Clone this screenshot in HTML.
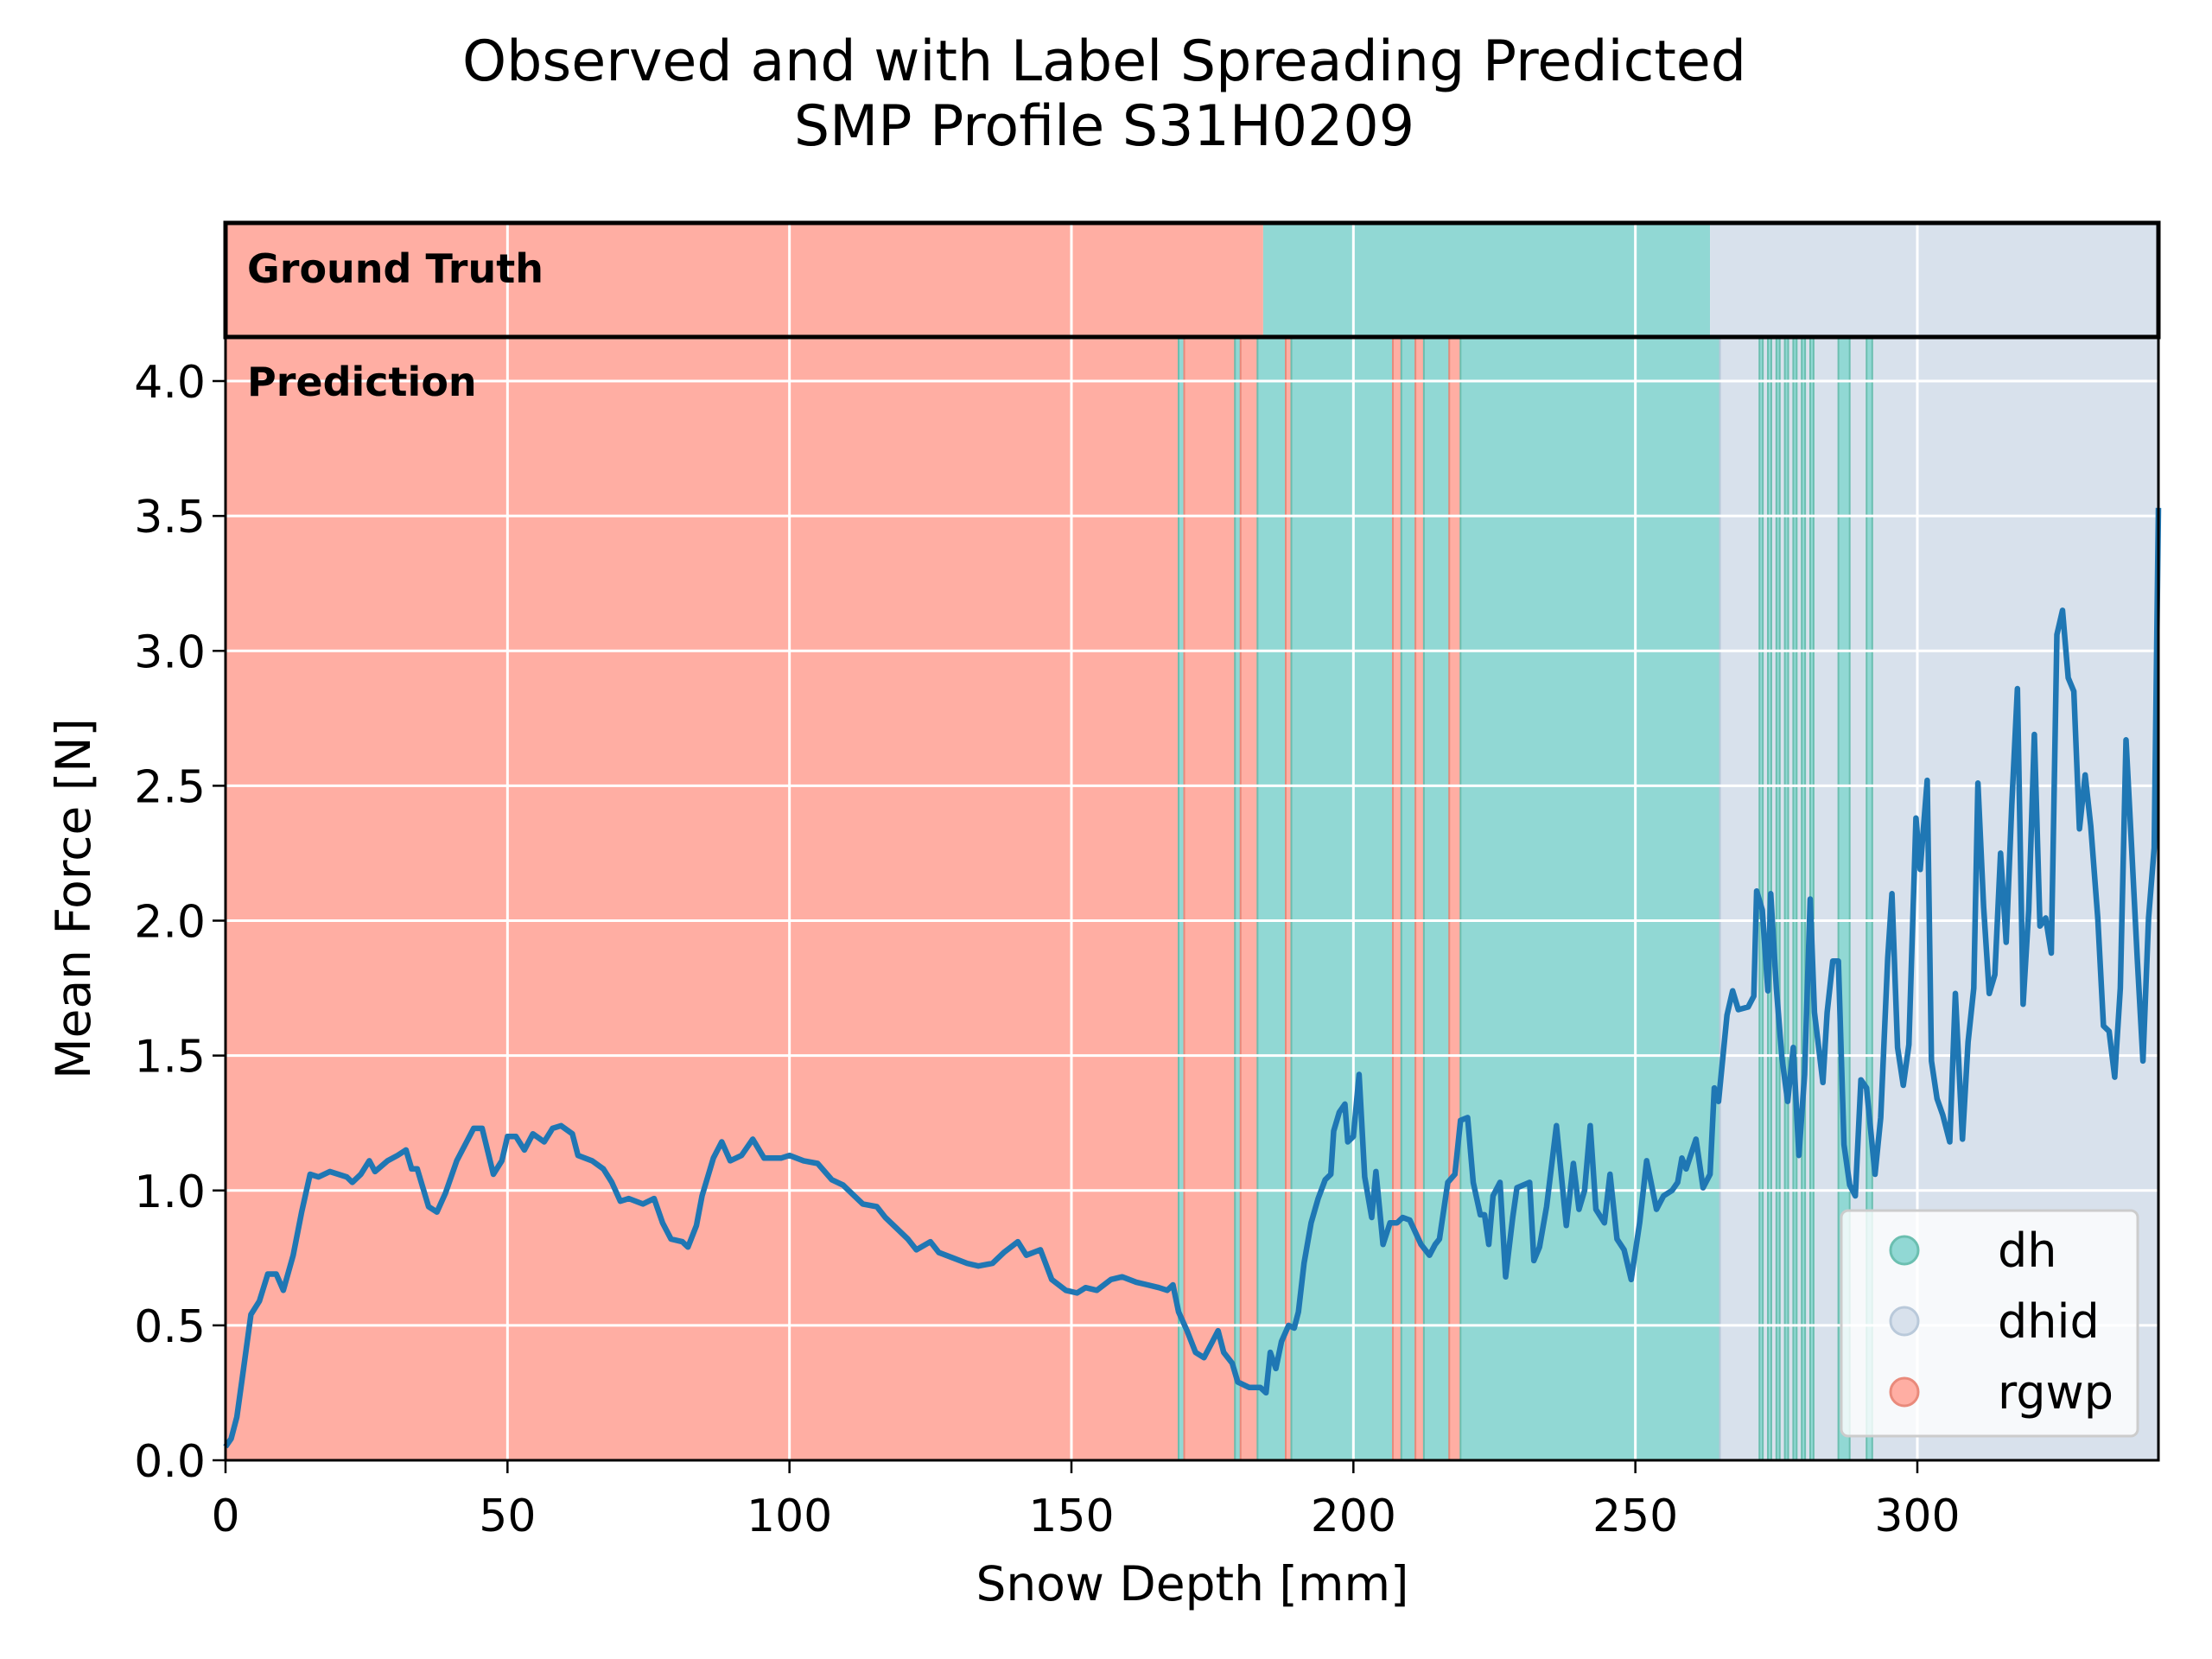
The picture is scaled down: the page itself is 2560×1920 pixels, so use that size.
<!DOCTYPE html>
<html><head><meta charset="utf-8"><style>
body{margin:0;background:#fff}
svg{display:block;font-family:"DejaVu Sans","Liberation Sans",sans-serif}
</style></head><body>
<svg id="c" width="2560" height="1920" viewBox="0 0 2560 1920">
<text x="1278" y="93" font-size="65" text-anchor="middle">Observed and with Label Spreading Predicted</text>
<text x="1278" y="168" font-size="65" text-anchor="middle">SMP Profile S31H0209</text>
<g id="plot"></g>
</svg>
<script>
const depth=[0,1,2,3,4.5,6,7.5,9,10.25,12,13.5,15,16.5,18.5,20,21.5,22.5,24,25.5,26.5,28.75,30.5,32,33,34,36,37.5,39,41,44,45.5,47.5,49,50,51.5,53,54.5,56.5,58,59.5,61.5,62.5,65,67,68.5,70,71.5,74,76,77.5,79,81,82,83.5,84.5,86.5,88,89.5,91.5,93.5,95.5,97,98.5,100,102.5,105,107.5,109.5,111.5,113,115.5,117,119,121,122.5,125,126.5,129,131.5,133.5,136,138,140.5,142,144.5,146.5,149,151,152.5,154.5,157,159,161.5,163.5,165.5,167,168,169,170.5,172,173.5,175,176,177,178.5,179.5,181.5,183.5,184.5,185.25,186.25,187.25,188.5,189.5,190.25,191.25,192.5,193.75,195,196,196.5,197.5,198.5,199,200,201,202,203.25,204,205.25,206.5,207.75,208.75,210,212,213.5,214.5,215.25,216.75,218,219,220.25,221.25,222.5,223.25,224,224.75,226,227,228.25,229,231.25,232,233,234.25,236,237.75,239,240,241,242,243,244.5,245.5,246.75,248,249.25,250.75,252,253.75,255,256.5,257.5,258.25,259,260.75,262,263.25,264,264.75,266.25,267.25,268.25,270,271,271.5,272.5,273.5,274,275,276,277,278,279,280,281,281.75,282.5,283.25,284,285,286,287,288,289,290,291,292.5,293.5,294.75,295.5,296.5,297.5,298.5,299.75,300.5,301.75,302.5,303.5,304.5,305.75,306.75,308,309,310,310.75,311.75,312.75,313.75,314.75,315.75,316.75,317.75,318.75,319.75,320.75,321.75,322.75,323.75,324.75,325.75,326.75,327.75,328.75,329.75,330.75,332,333,334,335,336,337,338,339,340,341,342,342.75];
const force=[0.05,0.08,0.16,0.31,0.54,0.59,0.69,0.69,0.63,0.76,0.92,1.06,1.05,1.07,1.06,1.05,1.03,1.06,1.11,1.07,1.11,1.13,1.15,1.08,1.08,0.94,0.92,0.99,1.11,1.23,1.23,1.06,1.11,1.2,1.2,1.15,1.21,1.18,1.23,1.24,1.21,1.13,1.11,1.08,1.03,0.96,0.97,0.95,0.97,0.88,0.82,0.81,0.79,0.87,0.98,1.12,1.18,1.11,1.13,1.19,1.12,1.12,1.12,1.13,1.11,1.1,1.04,1.02,0.98,0.95,0.94,0.9,0.86,0.82,0.78,0.81,0.77,0.75,0.73,0.72,0.73,0.77,0.81,0.76,0.78,0.67,0.63,0.62,0.64,0.63,0.67,0.68,0.66,0.65,0.64,0.63,0.65,0.55,0.48,0.4,0.38,0.44,0.48,0.4,0.36,0.29,0.27,0.27,0.25,0.4,0.34,0.44,0.5,0.49,0.55,0.73,0.88,0.97,1.04,1.06,1.22,1.29,1.32,1.18,1.2,1.43,1.05,0.9,1.07,0.8,0.88,0.88,0.9,0.89,0.8,0.76,0.8,0.82,1.03,1.06,1.26,1.27,1.03,0.91,0.91,0.8,0.98,1.03,0.68,0.9,1.01,1.03,0.74,0.79,0.94,1.24,0.87,1.1,0.93,1.0,1.24,0.93,0.88,1.06,0.82,0.78,0.67,0.88,1.11,0.93,0.98,1.0,1.03,1.12,1.08,1.19,1.01,1.06,1.38,1.33,1.65,1.74,1.67,1.68,1.72,2.11,2.04,1.74,2.1,1.75,1.49,1.33,1.53,1.13,1.43,2.08,1.66,1.53,1.4,1.66,1.85,1.85,1.17,1.02,0.98,1.41,1.38,1.06,1.27,1.86,2.1,1.53,1.39,1.54,2.38,2.19,2.52,1.48,1.34,1.28,1.18,1.73,1.19,1.55,1.75,2.51,2.05,1.73,1.8,2.25,1.92,2.43,2.86,1.69,2.04,2.69,1.98,2.01,1.88,3.06,3.15,2.9,2.85,2.34,2.54,2.35,2.01,1.61,1.59,1.42,1.75,2.67,2.27,1.86,1.48,2.01,2.27,3.53];
const gtStart=[0,184,263.25];
const gtEnd=[184,263.25,342.75];
const gtClass=["rgwp","dh","dhid"];
const prStart=[0,169,170,179,180,183,188,189,207,208.5,211,212.5,217,219,265,272,273.5,275,276.5,278,279.5,281,286,291];
const prEnd=[169,170,179,180,183,188,189,207,208.5,211,212.5,217,219,265,342.75,272.6,274.1,275.6,277.1,278.6,280.1,281.6,288,292];
const prClass=["rgwp","dh","rgwp","dh","rgwp","dh","rgwp","dh","rgwp","dh","rgwp","dh","rgwp","dh","dhid","dh","dh","dh","dh","dh","dh","dh","dh","dh"];
const xTicks=[0,50,100,150,200,250,300];
const yTicks=[0,0.5,1,1.5,2,2.5,3,3.5,4];
const legendLabels=["dh","dhid","rgwp"];
const colors={dh:"#91d8d4",dhid:"#d8e1ec",rgwp:"#ffaea3"};
const edge={dh:"#6bbfb0",dhid:"#b9c9da",rgwp:"#e98a7b"};
const L=261,R=2498,Y0=1690,Y4=441,BT=258,BB=390;
const X=d=>L+(d-0)*(R-L)/342.75;
const Y=f=>Y0-f*(Y0-Y4)/4;
const NS="http://www.w3.org/2000/svg";
const g=document.getElementById('plot');
function mk(tag,attrs,parent){const e=document.createElementNS(NS,tag);for(const k in attrs)e.setAttribute(k,attrs[k]);(parent||g).appendChild(e);return e;}
gtStart.forEach((s,i)=>{const r=mk('rect',{x:X(s),y:BT,width:X(gtEnd[i])-X(s),height:BB-BT,fill:colors[gtClass[i]]});

});
prStart.forEach((s,i)=>{const r=mk('rect',{x:X(s),y:BB,width:Math.max(3,X(prEnd[i])-X(s)),height:Y0-BB,fill:colors[prClass[i]],stroke:i>0?edge[prClass[i]]:'none','stroke-width':2});

});
xTicks.forEach(t=>{const l=mk('line',{x1:X(t),x2:X(t),y1:BT,y2:Y0,stroke:'#fff','stroke-width':3});


const tk=mk('line',{x1:X(t),x2:X(t),y1:Y0,y2:Y0+15,stroke:'#000','stroke-width':2.5});


const tx=mk('text',{x:X(t),y:Y0+82,'font-size':52,'text-anchor':'middle'});tx.textContent=t;

});
yTicks.forEach(t=>{const l=mk('line',{x1:L,x2:R,y1:Y(t),y2:Y(t),stroke:'#fff','stroke-width':3});


const tk=mk('line',{x1:L-15,x2:L,y1:Y(t),y2:Y(t),stroke:'#000','stroke-width':2.5});


const tx=mk('text',{x:L-23,y:Y(t)+19,'font-size':52,'text-anchor':'end'});tx.textContent=t.toFixed(1);

});
const pts=depth.map((d,i)=>X(d).toFixed(1)+','+Y(force[i]).toFixed(1)).join(' ');
const pl=mk('polyline',{points:pts,fill:'none',stroke:'#1f77b4','stroke-width':6.5,'stroke-linejoin':'round'});


const fr=mk('rect',{x:L,y:BB,width:R-L,height:Y0-BB,fill:'none',stroke:'#000','stroke-width':3});


const bx=mk('rect',{x:L,y:BT,width:R-L,height:BB-BT,fill:'none',stroke:'#000','stroke-width':5});


const t1=mk('text',{x:286,y:327,'font-size':46,'font-weight':'bold'});t1.textContent='Ground Truth';


const t2=mk('text',{x:286,y:458,'font-size':46,'font-weight':'bold'});t2.textContent='Prediction';


const xl=mk('text',{x:1380,y:1852,'font-size':55,'text-anchor':'middle'});xl.textContent='Snow Depth [mm]';


const yl=mk('text',{x:0,y:0,'font-size':55,'text-anchor':'middle',transform:'translate(104,1040) rotate(-90)'});yl.textContent='Mean Force [N]';


const lg=mk('rect',{x:2131,y:1401,width:343,height:261,rx:8,fill:'#fff','fill-opacity':0.8,stroke:'#ccc','stroke-width':3});


legendLabels.forEach((lab,i)=>{const cy=1447+i*82;
const c=mk('circle',{cx:2204,cy:cy,r:16,fill:colors[lab],stroke:edge[lab],'stroke-width':3});


const tx=mk('text',{x:2312,y:cy+19,'font-size':54});tx.textContent=lab;

});
</script>
</body></html>
